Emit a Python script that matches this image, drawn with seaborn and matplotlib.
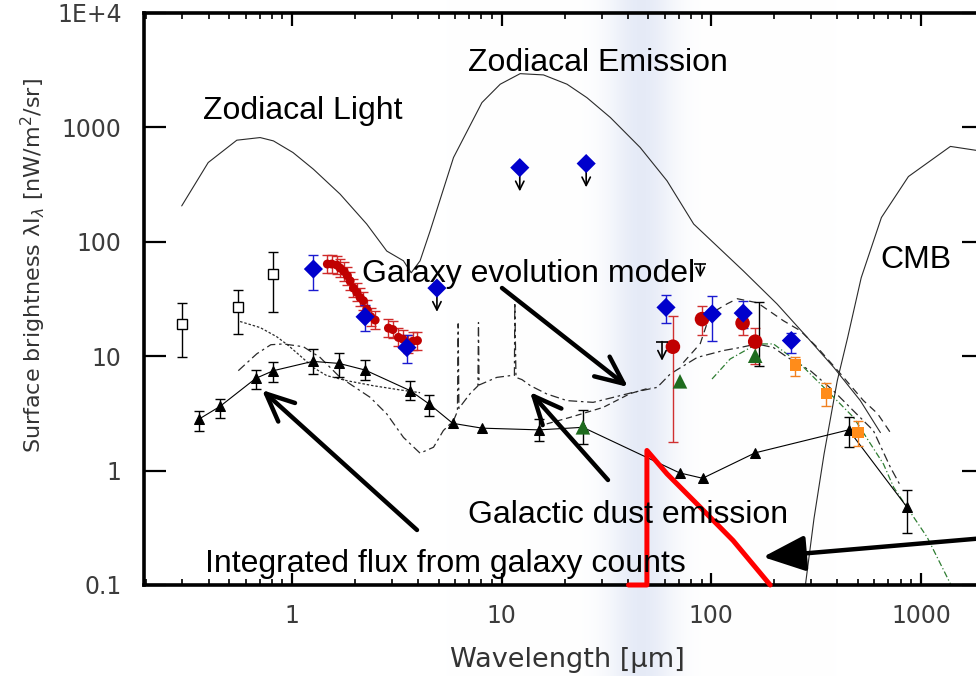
import numpy as np
import matplotlib
matplotlib.use('Agg')
import matplotlib.pyplot as plt
import seaborn as sns
from matplotlib.ticker import FixedLocator, FixedFormatter, LogLocator, NullFormatter

sns.set_theme(style='ticks')
plt.rcParams['font.family'] = ['Liberation Sans', 'DejaVu Sans']

nan = np.nan
# ---------------- data ----------------
zodi_x = [0.2975, 0.398, 0.545, 0.704, 0.815, 1.01, 1.264, 1.695, 2.27, 2.83, 3.40, 3.70, 4.08, 4.56,
          5.89, 8.05, 9.84, 12.25, 15.83, 20.5, 25.5, 33, 45.8, 61.5, 82.4, 142, 206, 287, 384, 514, 618, 641]
zodi_y = [206, 493, 773, 815, 762, 603, 431, 261, 143, 83, 68.2, 53.6, 68.2, 125,
          545, 1648, 2385, 2950, 2876, 2385, 1820, 1220, 667, 341, 143, 55.8, 28.6, 14.6, 7.98, 4.09, 2.39, 2.15]

cmb_x = [281, 309, 345, 399, 447, 519, 648, 872, 1383, 1880]
cmb_y = [0.099, 0.381, 1.39, 6.1, 14.5, 48.5, 163, 372, 682, 626]

dot_x = [0.565, 0.704, 0.845, 0.960, 1.092, 1.264, 1.464, 1.824, 2.44, 3.28, 4.08]
dot_y = [20.1, 17.8, 14.8, 12.4, 10.1, 7.95, 6.76, 6.11, 5.52, 5.07, 4.80]

modA_x = [0.554, 0.679, 0.792, 0.909, 1.132, 1.36, 1.695, 2.357, 2.83, 3.40, 4.08, 4.73, 5.27, 5.89,
          6.15, 6.2, 6.25, 7.07, 7.7, 7.75, 7.8, 9.48, 10.98, 11.5, 11.55, 11.7, 12.5, 13.7, 16.4,
          20.5, 27.3, 34.1, 42.4, 55.2, 63.7, 85.7, 114, 137, 165, 198, 231, 297, 382, 476, 593, 715, 798]
modA_y = [7.47, 10.5, 12.6, 12.8, 12.1, 9.76, 6.53, 4.37, 3.13, 1.95, 1.42, 1.60, 2.24, 2.73,
          3.3, 19.2, 3.5, 4.71, 5.5, 19.7, 5.6, 6.53, 6.76, 6.8, 29.5, 6.53, 6.24, 5.53, 4.68,
          4.09, 3.95, 4.37, 4.83, 5.34, 6.99, 9.76, 11.2, 11.9, 12.8, 11.9, 9.76, 7.47, 5.0, 3.34, 2.24, 1.07, 0.74]

modC_x = [73.5, 88.6, 98.9, 119, 133, 166, 221, 266, 321, 413, 532, 621, 715]
modC_y = [8.78, 12.9, 23.5, 28.7, 31.8, 29.3, 20.4, 16.7, 11.9, 7.03, 4.09, 3.15, 2.15]

modD_x = [16.4, 21.2, 30.5, 41.0, 51.2]
modD_y = [2.56, 2.92, 3.57, 4.71, 5.31]

green_model_x = [100.8, 123, 165, 198, 266, 370, 477, 663, 741, 1071, 1383]
green_model_y = [6.32, 9.45, 12.8, 12.8, 8.55, 4.68, 2.92, 1.14, 0.715, 0.2616, 0.1024]

tri_x = [0.361, 0.453, 0.671, 0.814, 1.255, 1.676, 2.23, 3.66, 4.51, 5.84, 8.05, 15.1, 24.4, 70.6, 90.9, 162, 452, 859]
tri_y = [2.83, 3.64, 6.4, 7.47, 9.01, 8.65, 7.57, 5.0, 3.82, 2.59, 2.35, 2.27, 2.39, 0.955, 0.857, 1.43, 2.27, 0.478]
tri_lo = [2.23, 2.90, 5.2, 6.0, 7.04, 6.6, 6.24, 4.17, 3.02, nan, nan, 1.83, nan, nan, nan, nan, 1.62, 0.287]
tri_hi = [3.34, 4.25, 7.5, 8.96, 11.6, 10.7, 9.3, 6.1, 4.61, nan, nan, 2.84, nan, nan, nan, nan, 2.96, 0.68]

osq_x = [0.2996, 0.554, 0.814]
osq_y = [19.1, 26.7, 52.2]
osq_lo = [9.76, 15.6, 24.1]
osq_hi = [28.9, 38.1, 80.7]

blue_x = [1.264, 2.23, 3.53, 60.8, 101, 142, 241]
blue_y = [57.8, 22.1, 11.9, 26.7, 23.4, 23.8, 13.7]
blue_lo = [38.1, 16.7, 8.72, 19.7, 13.7, 17.8, 10.6]
blue_hi = [76.9, 28.2, 15.4, 34.4, 33.8, 30.1, 16.1]
blue_ul_x = [4.91, 12.2, 25.3]
blue_ul_y = [39.4, 445, 483]

reds_x = [1.474, 1.547, 1.635, 1.695, 1.771, 1.836, 1.891, 1.962, 2.036, 2.112, 2.189, 2.273, 2.375,
          2.490, 2.883, 3.025, 3.217, 3.377, 3.591, 3.768, 3.963]
reds_y = [63.9, 63.9, 62.6, 58.9, 55.0, 50.5, 45.6, 39.4, 36.1, 32.6, 30.5, 25.8, 22.1,
          20.7, 17.6, 17.1, 14.6, 14.1, 12.8, 13.5, 13.7]
reds_lo = [53.3, 53.3, 52.2, 49.1, 45.8, 42.1, 38.0, 32.8, 30.1, 27.2, 25.4, 21.5, 18.4,
           17.3, 14.7, 14.3, 12.2, 11.8, 10.7, 11.3, 11.4]
reds_hi = [76.7, 76.7, 75.1, 70.7, 66.0, 60.6, 54.7, 47.3, 43.3, 39.1, 36.6, 31.0, 26.5,
           24.8, 21.1, 20.5, 17.5, 16.9, 15.4, 16.2, 16.4]

redb_x = [65.6, 90.3, 141, 162]
redb_y = [12.1, 21.1, 19.5, 13.4]
redb_lo = [1.77, 15.4, 15.4, 8.55]
redb_hi = [22.6, 27.6, 25.0, 17.6]

blk_eb_x = [168]
blk_eb_y = [19.1]
blk_eb_lo = [8.26]
blk_eb_hi = [29.5]

blk_ul_x = [58.2, 88.6]
blk_ul_top = [13.4, 63.9]
blk_ul_bot = [9.13, 48.8]

grn_x = [24.4, 70.9, 162]
grn_y = [2.39, 6.03, 10.1]
grn_lo = [1.72, nan, nan]
grn_hi = [3.41, nan, nan]

org_x = [252, 354, 501]
org_y = [8.38, 4.73, 2.16]
org_lo = [6.76, 3.70, 1.63]
org_hi = [9.76, 5.78, 2.73]

redpoly_x = [40.3, 49.3, 49.3, 61.5, 88.6, 127, 191]
redpoly_y = [0.1, 0.1, 1.5, 0.936, 0.478, 0.245, 0.1]

ytick_vals = [0.1, 1, 10, 100, 1000, 10000]
ytick_labels = ['0.1', '1', '10', '100', '1000', '1E+4']
xtick_vals = [1, 10, 100, 1000]
xtick_labels = ['1', '10', '100', '1000']

# ---------------- figure ----------------
W, H = 976, 676
fig = plt.figure(figsize=(W / 100, H / 100), dpi=100)

# light blue vertical band across the whole figure
bg = fig.add_axes([0, 0, 1, 1], zorder=0)
bg.axis('off')
px = np.arange(W)
prof = np.exp(-((px - 641) / 33.0) ** 2)
peak = np.array([0.90, 0.92, 0.968])
img = 1 - prof[None, :, None] * (1 - peak[None, None, :])
bg.imshow(img, aspect='auto', extent=[0, 1, 0, 1], interpolation='bilinear')
bg.set_xlim(0, 1); bg.set_ylim(0, 1)

ax = fig.add_axes([144 / W, 1 - 585 / H, (984 - 144) / W, (585 - 13) / H], zorder=1)
ax.patch.set_alpha(0)
ax.set_xscale('log'); ax.set_yscale('log')
ax.set_xlim(0.1966, 2000)
ax.set_ylim(0.1, 1e4)

lc = '#2a2a2a'
sns.lineplot(x=zodi_x, y=zodi_y, ax=ax, sort=False, estimator=None, color=lc, linewidth=0.8)
sns.lineplot(x=cmb_x, y=cmb_y, ax=ax, sort=False, estimator=None, color=lc, linewidth=0.8)
sns.lineplot(x=dot_x, y=dot_y, ax=ax, sort=False, estimator=None, color=lc, linewidth=0.9, linestyle=(0, (2, 1.5)))
sns.lineplot(x=modA_x, y=modA_y, ax=ax, sort=False, estimator=None, color=lc, linewidth=0.9, linestyle=(0, (7, 3, 2, 3)))
sns.lineplot(x=modC_x, y=modC_y, ax=ax, sort=False, estimator=None, color=lc, linewidth=0.9, linestyle=(0, (6, 4)))
sns.lineplot(x=modD_x, y=modD_y, ax=ax, sort=False, estimator=None, color=lc, linewidth=0.9, linestyle=(0, (5, 3)))
sns.lineplot(x=green_model_x, y=green_model_y, ax=ax, sort=False, estimator=None, color='#2e7d32', linewidth=0.9, linestyle=(0, (5, 2, 1, 2)))

# integrated galaxy counts
sns.lineplot(x=tri_x, y=tri_y, ax=ax, sort=False, estimator=None, color='black', linewidth=0.8,
             marker='^', markersize=7, markeredgecolor='black', markerfacecolor='black')

def ebar(x, y, lo, hi, color, **kw):
    x = np.asarray(x, float); y = np.asarray(y, float)
    lo = np.asarray(lo, float); hi = np.asarray(hi, float)
    m = ~np.isnan(lo)
    ax.errorbar(x[m], y[m], yerr=[y[m] - lo[m], hi[m] - y[m]], fmt='none', ecolor=color,
                elinewidth=1.0, capsize=3.5, capthick=1.0, **kw)

ebar(tri_x, tri_y, tri_lo, tri_hi, 'black', zorder=3)
ebar(osq_x, osq_y, osq_lo, osq_hi, 'black', zorder=3)
ax.plot(osq_x, osq_y, 's', ms=7, mfc='white', mec='black', mew=1.0, zorder=4)

ebar(reds_x, reds_y, reds_lo, reds_hi, '#d02a2a', zorder=3)
sns.scatterplot(x=reds_x, y=reds_y, ax=ax, color='#c00000', s=42, edgecolor='none', zorder=4)

ebar(redb_x, redb_y, redb_lo, redb_hi, '#d03030', zorder=3)
sns.scatterplot(x=redb_x, y=redb_y, ax=ax, color='#c00000', s=110, edgecolor='none', zorder=4)

ebar(blk_eb_x, blk_eb_y, blk_eb_lo, blk_eb_hi, 'black', zorder=3)

ebar(blue_x, blue_y, blue_lo, blue_hi, '#1a1ad0', zorder=3)
sns.scatterplot(x=blue_x + blue_ul_x, y=blue_y + blue_ul_y, ax=ax, color='#0000cc', marker='D',
                s=95, edgecolor='none', zorder=5)
for x, y in zip(blue_ul_x, blue_ul_y):
    ax.annotate('', xy=(x, y * 0.62), xytext=(x, y), xycoords='data',
                arrowprops=dict(arrowstyle='->,head_length=0.5,head_width=0.25', lw=1.2,
                                color='black', mutation_scale=12, shrinkA=0, shrinkB=0), zorder=4)
for x, t, b in zip(blk_ul_x, blk_ul_top, blk_ul_bot):
    ax.annotate('', xy=(x, b), xytext=(x, t), xycoords='data',
                arrowprops=dict(arrowstyle='->,head_length=0.5,head_width=0.25', lw=1.2,
                                color='black', mutation_scale=12, shrinkA=0, shrinkB=0), zorder=4)
    ax.plot([x], [t], marker='_', ms=9, mew=1.2, color='black', zorder=4)

ebar(grn_x, grn_y, grn_lo, grn_hi, 'black', zorder=3)
sns.scatterplot(x=grn_x, y=grn_y, ax=ax, color='#1e6b1e', marker='^', s=110, edgecolor='none', zorder=5)

ebar(org_x, org_y, org_lo, org_hi, '#f08020', zorder=3)
sns.scatterplot(x=org_x, y=org_y, ax=ax, color='#ff8c1a', marker='s', s=70, edgecolor='none', zorder=5)

sns.lineplot(x=redpoly_x, y=redpoly_y, ax=ax, sort=False, estimator=None, color='#ff0000',
             linewidth=3.6, zorder=6, clip_on=False)

# ---------------- axes styling ----------------
for s in ax.spines.values():
    s.set_linewidth(2.6)
    s.set_color('black')
ax.yaxis.set_major_locator(FixedLocator(ytick_vals))
ax.yaxis.set_major_formatter(FixedFormatter(ytick_labels))
ax.yaxis.set_minor_locator(FixedLocator([]))
ax.xaxis.set_major_locator(FixedLocator(xtick_vals))
ax.xaxis.set_major_formatter(FixedFormatter(xtick_labels))
ax.xaxis.set_minor_locator(LogLocator(base=10, subs=np.arange(2, 10)))
ax.xaxis.set_minor_formatter(NullFormatter())
ax.tick_params(axis='x', which='major', direction='in', length=9, width=1.6, top=True, pad=14,
               labelsize=17, labelcolor='#3c3c3c', color='black')
ax.tick_params(axis='x', which='minor', direction='in', length=4.5, width=1.2, top=True, color='black')
ax.tick_params(axis='y', which='major', direction='in', length=16, width=1.6, right=True, pad=16,
               labelsize=17, labelcolor='#3c3c3c', color='black')
for lab in ax.get_xticklabels() + ax.get_yticklabels():
    lab.set_fontfamily('DejaVu Sans')
ax.grid(False)

fig.text(33 / W, 1 - 266 / H, r'Surface brightness λI$_\lambda$ [nW/m$^2$/sr]', rotation=90,
         ha='center', va='center', fontsize=16, color='#333333', family='DejaVu Sans')
fig.text(567 / W, 1 - 660 / H, 'Wavelength [μm]', ha='center', va='center', fontsize=19.5,
         color='#333333', family='DejaVu Sans')

# ---------------- labels & arrows ----------------
def lbl(x, ybase, s):
    fig.text(x / W, 1 - ybase / H, s, ha='left', va='baseline', fontsize=23, color='black', zorder=10)

lbl(203, 119, 'Zodiacal Light')
lbl(468, 71, 'Zodiacal Emission')
lbl(880, 268, 'CMB')
lbl(362, 282, 'Galaxy evolution model')
lbl(468, 523, 'Galactic dust emission')
lbl(205, 572, 'Integrated flux from galaxy counts')

def arrow(x0, y0, x1, y1, style='->,head_length=1.0,head_width=0.45'):
    ax.annotate('', xy=(x1, H - y1), xytext=(x0, H - y0), xycoords='figure pixels',
                textcoords='figure pixels',
                arrowprops=dict(arrowstyle=style, lw=3.2, color='black', mutation_scale=20,
                                shrinkA=0, shrinkB=0), zorder=10, annotation_clip=False)

arrow(502, 288, 628, 387)
arrow(608, 480, 530, 392)
arrow(417, 530, 262, 390)
arrow(985, 538, 763, 557, style='-|>,head_length=1.3,head_width=0.55')

fig.savefig('out.png', dpi=100)
